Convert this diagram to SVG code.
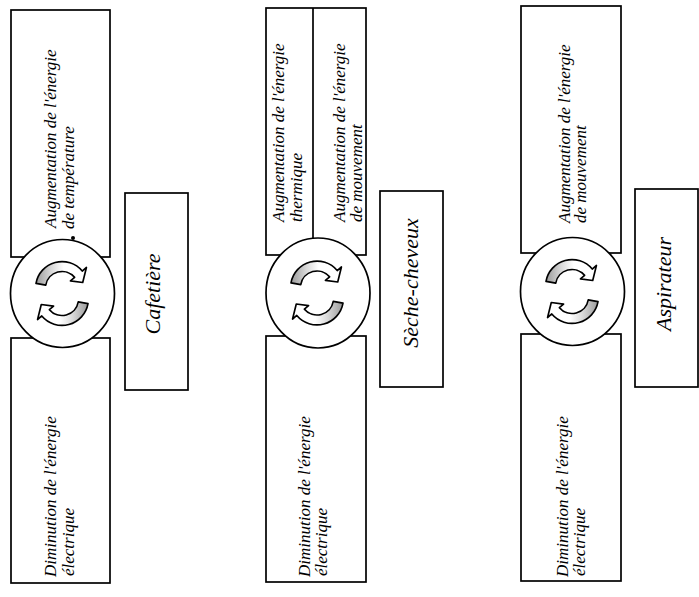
<svg xmlns="http://www.w3.org/2000/svg" width="699" height="597" viewBox="0 0 699 597">
  <style>
    .box { fill: #ffffff; stroke: #000000; stroke-width: 1.7; }
    .ring { fill: #ffffff; stroke: #000000; stroke-width: 1.7; }
    .arr { fill: url(#shade); stroke: #000000; stroke-width: 1.5; stroke-linejoin: round; }
    .t { font-family: "Liberation Serif", "DejaVu Serif", serif; font-style: italic; font-size: 17px; fill: #000000; }
    .lbl { font-family: "Liberation Serif", "DejaVu Serif", serif; font-style: italic; font-size: 22px; fill: #000000; text-anchor: middle; }
  </style>
  <defs>
    <linearGradient id="shade" x1="0" y1="0" x2="1" y2="0">
      <stop offset="0" stop-color="#9a9a9a"/>
      <stop offset="0.3" stop-color="#d8d8d8"/>
      <stop offset="0.55" stop-color="#ffffff"/>
    </linearGradient>
    <g id="cycle">
      <path class="arr" transform="translate(0,-5)" d="M -23.64 -4.17 A 24 24 0 0 1 18.38 -15.43 L 22.21 -18.64 L 18.84 -5.05 L 7.66 -6.43 L 11.49 -9.64 A 15 15 0 0 0 -14.77 -2.6 Z"/>
      <path class="arr" transform="translate(0,5) rotate(180)" d="M -23.64 -4.17 A 24 24 0 0 1 18.38 -15.43 L 22.21 -18.64 L 18.84 -5.05 L 7.66 -6.43 L 11.49 -9.64 A 15 15 0 0 0 -14.77 -2.6 Z"/>
    </g>
  </defs>
  <rect width="699" height="597" fill="#ffffff"/>

  <g id="connectors"/>

  <!-- Panel 1 : Cafetière -->
  <g id="p1-gain">
    <rect class="box" x="11" y="10" width="99" height="247"/>
    <text class="t" transform="translate(56,228) rotate(-90)">Augmentation de l'énergie</text>
    <text class="t" transform="translate(74,229) rotate(-90)">de température</text>
  </g>
  <g id="p1-loss">
    <rect class="box" x="11" y="338" width="99" height="245"/>
    <text class="t" transform="translate(56,577) rotate(-90)">Diminution de l'énergie</text>
    <text class="t" transform="translate(74,576) rotate(-90)">électrique</text>
  </g>
  <g id="p1-converter">
    <ellipse class="ring" cx="62.5" cy="293.5" rx="52" ry="54"/>
    <use href="#cycle" transform="translate(62,293.5) scale(1.1)"/>
    <circle cx="73" cy="238" r="2" fill="#000000"/>
  </g>
  <g id="p1-label">
    <rect class="box" x="125" y="193" width="63" height="197"/>
    <text class="lbl" transform="translate(160,294) rotate(-90)">Cafetière</text>
  </g>

  <!-- Panel 2 : Sèche-cheveux -->
  <g id="p2-gain">
    <rect class="box" x="266" y="8" width="100" height="247"/>
    <line x1="313" y1="8" x2="313" y2="255" stroke="#000000" stroke-width="1.7"/>
    <text class="t" transform="translate(284,222) rotate(-90)">Augmentation de l'énergie</text>
    <text class="t" transform="translate(302,222) rotate(-90)">thermique</text>
    <text class="t" transform="translate(345,222) rotate(-90)">Augmentation de l'énergie</text>
    <text class="t" transform="translate(362,222) rotate(-90)">de mouvement</text>
  </g>
  <g id="p2-loss">
    <rect class="box" x="266" y="336" width="100" height="246"/>
    <text class="t" transform="translate(310,577) rotate(-90)">Diminution de l'énergie</text>
    <text class="t" transform="translate(327,576) rotate(-90)">électrique</text>
  </g>
  <g id="p2-converter">
    <ellipse class="ring" cx="318" cy="293" rx="52" ry="55"/>
    <use href="#cycle" transform="translate(317,293) scale(1.1)"/>
  </g>
  <g id="p2-label">
    <rect class="box" x="380" y="191" width="63" height="196"/>
    <text class="lbl" transform="translate(418,283) rotate(-90)">Sèche-cheveux</text>
  </g>

  <!-- Panel 3 : Aspirateur -->
  <g id="p3-gain">
    <rect class="box" x="521" y="6" width="100" height="247"/>
    <text class="t" transform="translate(570,223) rotate(-90)">Augmentation de l'énergie</text>
    <text class="t" transform="translate(586,223) rotate(-90)">de mouvement</text>
  </g>
  <g id="p3-loss">
    <rect class="box" x="521" y="334" width="100" height="247"/>
    <text class="t" transform="translate(568,577) rotate(-90)">Diminution de l'énergie</text>
    <text class="t" transform="translate(585,576) rotate(-90)">électrique</text>
  </g>
  <g id="p3-converter">
    <ellipse class="ring" cx="572.5" cy="291.5" rx="52" ry="54"/>
    <use href="#cycle" transform="translate(572,291.5) scale(1.1)"/>
  </g>
  <g id="p3-label">
    <rect class="box" x="635" y="189" width="63" height="198"/>
    <text class="lbl" transform="translate(671,284) rotate(-90)">Aspirateur</text>
  </g>
</svg>
